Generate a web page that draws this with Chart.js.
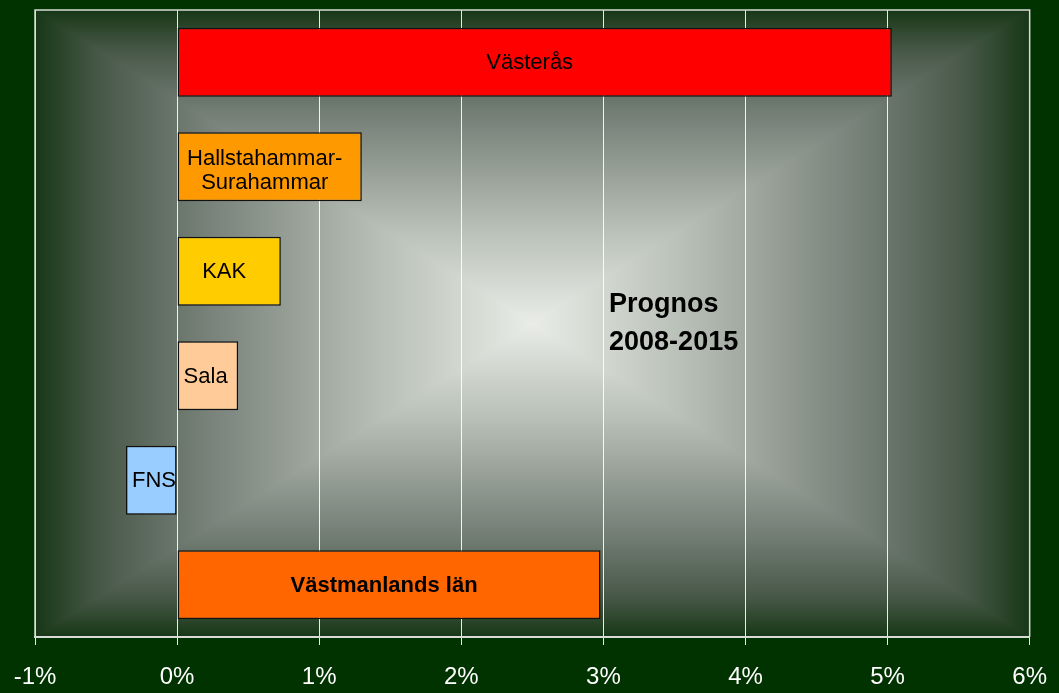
<!DOCTYPE html>
<html>
<head>
<meta charset="utf-8">
<script src="https://cdn.jsdelivr.net/npm/chart.js@4/dist/chart.umd.min.js"></script>
<style>
  html, body { margin: 0; padding: 0; background: #003300; }
  #wrap { width: 1059px; height: 693px; }
</style>
</head>
<body>
<div id="wrap"><canvas id="kommuner"></canvas></div>
<script>
// befolkningsförändring, prognos 2008-2015 (procent)
const kommuner = ["Västerås", "Hallstahammar-Surahammar", "KAK", "Sala", "FNS", "Västmanlands län"];
const etiketter = [["Västerås"], ["Hallstahammar-", "Surahammar"], ["KAK"], ["Sala"], ["FNS"], ["Västmanlands län"]];
const forandring = [5.03, 1.30, 0.73, 0.43, -0.36, 2.98];
const farger = ["#FF0000", "#FF9900", "#FFCC00", "#FFCC99", "#99CCFF", "#FF6600"];
const fetstil = [false, false, false, false, false, true];
const xTicks = [-1, 0, 1, 2, 3, 4, 5, 6];
const rubrik = ["Prognos", "2008-2015"];

const canvas = document.getElementById("kommuner");

// rectangular "from center" gradient in the plot area, drawn before the grid
const bakgrund = {
  id: "bakgrund",
  beforeDraw(chart) {
    const { ctx, chartArea: a } = chart;
    const cx = (a.left + a.right) / 2, cy = (a.top + a.bottom) / 2;
    const stops = [[0, "#e9ece7"], [0.3, "#b9c0b7"], [0.65, "#78827a"], [0.87, "#485848"], [1, "#173717"]];
    const grad = (x, y) => {
      const g = ctx.createLinearGradient(cx, cy, x, y);
      stops.forEach(st => g.addColorStop(st[0], st[1]));
      return g;
    };
    ctx.save();
    // left / right halves as full rectangles (no seams)
    ctx.fillStyle = grad(a.left, cy);
    ctx.fillRect(a.left, a.top, cx - a.left + 1, a.bottom - a.top);
    ctx.fillStyle = grad(a.right, cy);
    ctx.fillRect(cx, a.top, a.right - cx, a.bottom - a.top);
    // top / bottom triangles on top
    const tris = [
      [cx, a.top, [a.left, a.top], [a.right, a.top]],
      [cx, a.bottom, [a.left, a.bottom], [a.right, a.bottom]],
    ];
    for (const s of tris) {
      ctx.fillStyle = grad(s[0], s[1]);
      ctx.beginPath();
      ctx.moveTo(cx, cy);
      ctx.lineTo(s[2][0], s[2][1]);
      ctx.lineTo(s[3][0], s[3][1]);
      ctx.closePath();
      ctx.fill();
    }
    ctx.restore();
  },
};

const ramOchText = {
  id: "ramOchText",
  afterDraw(chart) {
    const { ctx, chartArea: a } = chart;
    ctx.save();
    ctx.strokeStyle = "#d8dcd8";
    ctx.lineWidth = 1.5;
    ctx.beginPath();
    ctx.moveTo(a.left, a.bottom);
    ctx.lineTo(a.left, a.top);
    ctx.lineTo(a.right, a.top);
    ctx.lineTo(a.right, a.bottom);
    ctx.stroke();

    // labels inside bars
    const meta = chart.getDatasetMeta(0);
    ctx.fillStyle = "#000";
    ctx.textAlign = "center";
    ctx.textBaseline = "middle";
    meta.data.forEach((bar, i) => {
      ctx.font = (fetstil[i] ? "bold " : "") + "22px 'Liberation Sans', Arial, sans-serif";
      const lines = etiketter[i];
      const w = Math.max(...lines.map(t => ctx.measureText(t).width));
      const left = Math.min(bar.x, bar.base);
      let mx = (bar.x + bar.base) / 2 - 5;
      if (mx - w / 2 < left + 6) mx = left + 6 + w / 2;
      const lh = 24;
      const dy = lines.length > 1 ? 4 : 1;
      lines.forEach((t, j) => {
        ctx.fillText(t, mx, bar.y + (j - (lines.length - 1) / 2) * lh + dy);
      });
    });

    // annotation
    const xs = chart.scales.x, ys = chart.scales.y;
    ctx.textAlign = "left";
    ctx.font = "bold 27px 'Liberation Sans', Arial, sans-serif";
    const tx = xs.getPixelForValue(3.04);
    const ty = (ys.getPixelForValue(2) + ys.getPixelForValue(3)) / 2;
    ctx.fillText(rubrik[0], tx, ty - 19);
    ctx.fillText(rubrik[1], tx, ty + 19);
    ctx.restore();
  },
};

new Chart(canvas, {
  type: "bar",
  data: {
    labels: kommuner,
    datasets: [
      {
        data: forandring,
        backgroundColor: farger,
        borderColor: "#111",
        borderWidth: 1.5,
        borderSkipped: false,
        barPercentage: 0.66,
        categoryPercentage: 1,
      },
    ],
  },
  options: {
    indexAxis: "y",
    responsive: true,
    maintainAspectRatio: false,
    animation: false,
    layout: { padding: { left: 35, right: 29, top: 10, bottom: 0 } },
    plugins: {
      legend: { display: false },
      tooltip: { enabled: false },
    },
    scales: {
      x: {
        min: xTicks[0],
        max: xTicks[xTicks.length - 1],
        afterBuildTicks: (scale) => { scale.ticks = xTicks.map(v => ({ value: v })); },
        afterFit: (scale) => { scale.height = 56; },
        ticks: {
          color: "#ffffff",
          padding: 12,
          font: { size: 24, lineHeight: 1.7, family: "'Liberation Sans', Arial, sans-serif" },
          callback: (v) => v + "%",
        },
        grid: { color: "rgba(255,255,255,0.9)", lineWidth: 1, tickLength: 8 },
        border: { color: "#d8dcd8", width: 2 },
      },
      y: {
        display: false,
        grid: { display: false },
      },
    },
  },
  plugins: [bakgrund, ramOchText],
});
</script>
</body>
</html>
